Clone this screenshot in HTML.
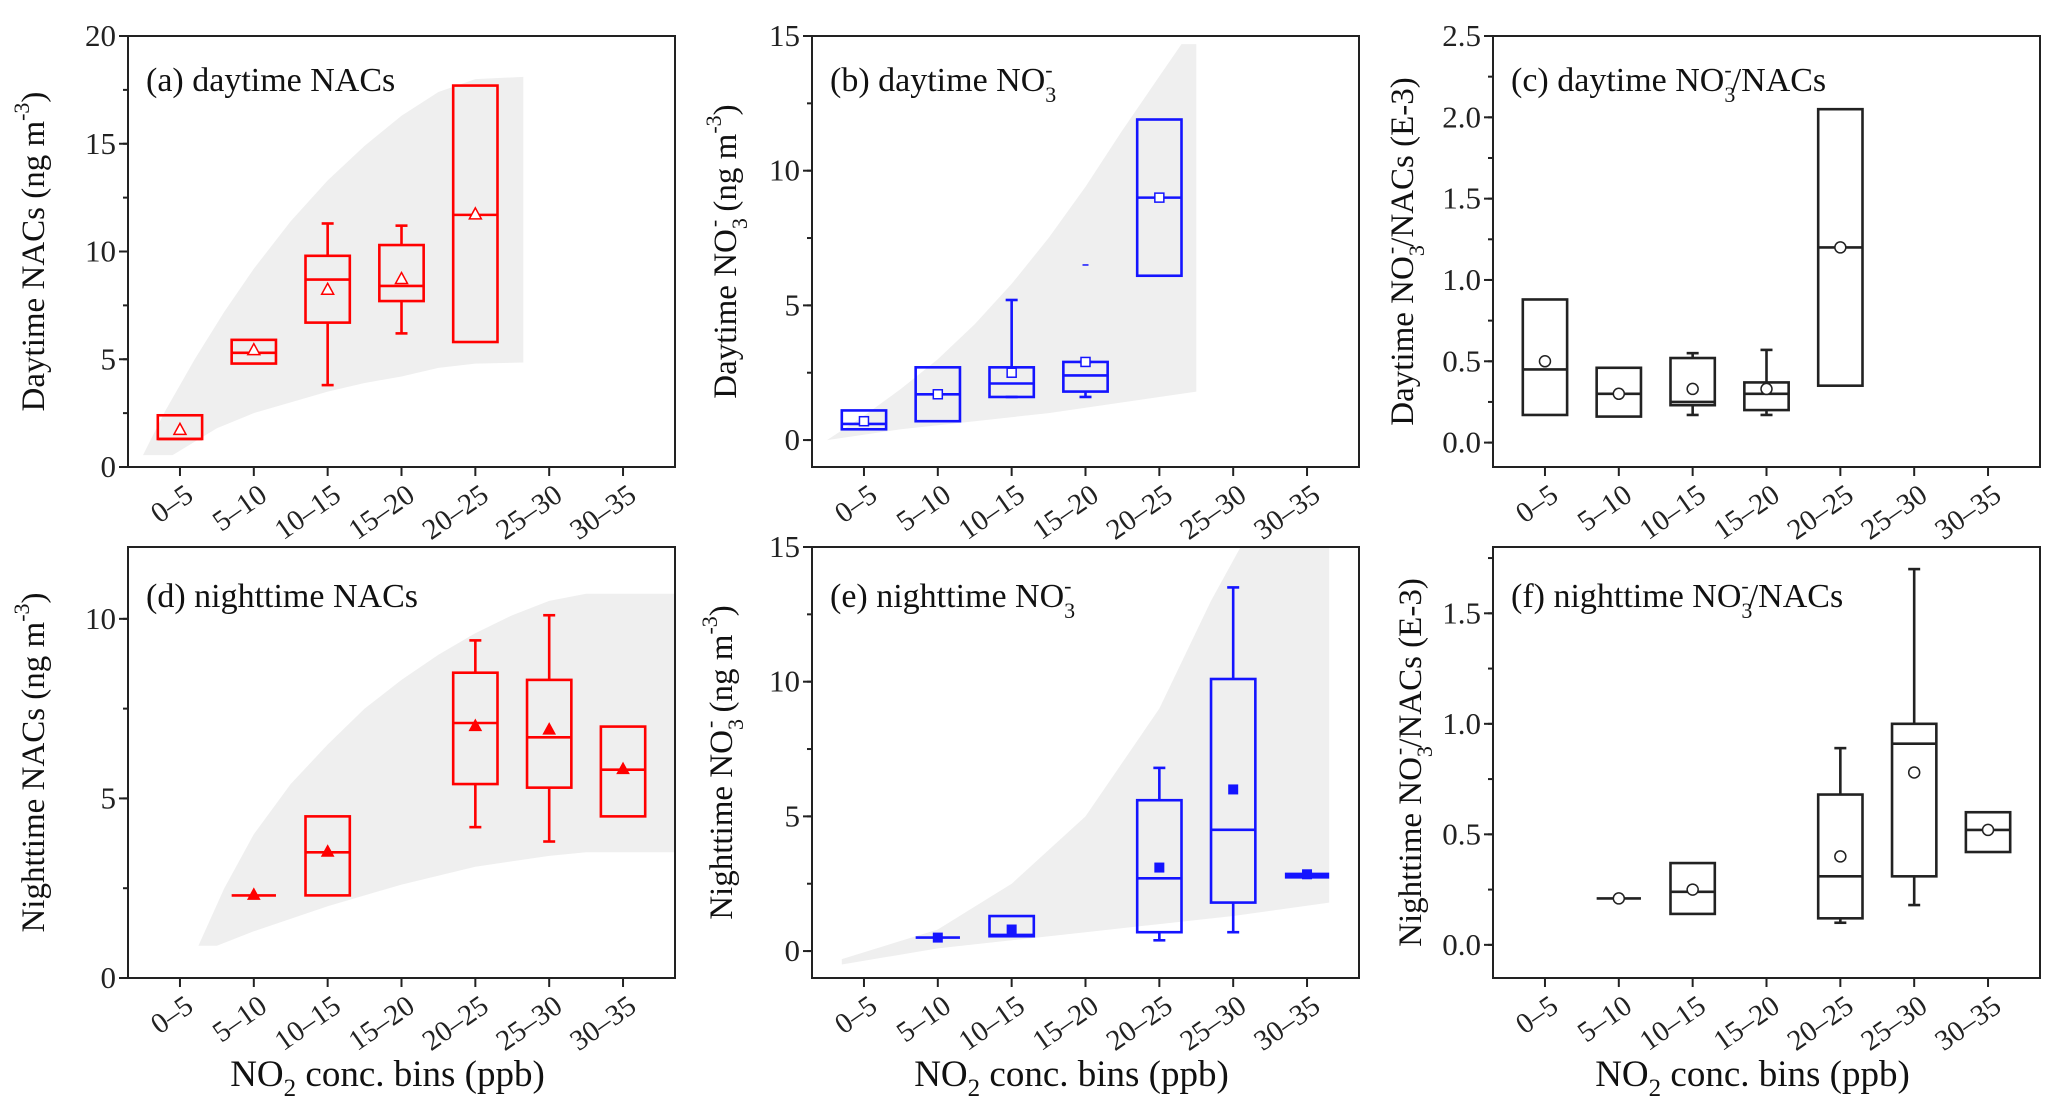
<!DOCTYPE html>
<html><head><meta charset="utf-8"><style>
html,body{margin:0;padding:0;background:#fff;}
svg{display:block;font-family:"Liberation Serif",serif;}
</style></head><body>
<svg id="fig" width="2067" height="1118" viewBox="0 0 2067 1118" xmlns="http://www.w3.org/2000/svg"></svg>
<script>
const categories = ["0–5","5–10","10–15","15–20","20–25","25–30","30–35"];
// box stats: [catIndex, whiskerLow, q1, median, q3, whiskerHigh, mean] (null = no whisker)
const boxesA = [[0,null,1.3,1.3,2.4,null,1.7],[1,null,4.8,5.3,5.9,null,5.4],[2,3.8,6.7,8.7,9.8,11.3,8.2],[3,6.2,7.7,8.4,10.3,11.2,8.7],[4,null,5.8,11.7,17.7,null,11.7]];
const boxesB = [[0,null,0.4,0.6,1.1,null,0.7],[1,null,0.7,1.7,2.7,null,1.7],[2,1.6,1.6,2.1,2.7,5.2,2.5],[3,1.6,1.8,2.4,2.9,2.9,2.9],[4,null,6.1,9.0,11.9,null,9.0]];
const outliersB = [[3,6.5]];
const boxesC = [[0,null,0.17,0.45,0.88,null,0.5],[1,null,0.16,0.3,0.46,null,0.3],[2,0.17,0.23,0.25,0.52,0.55,0.33],[3,0.17,0.2,0.3,0.37,0.57,0.33],[4,null,0.35,1.2,2.05,null,1.2]];
const boxesD = [[1,null,2.3,2.3,2.3,null,2.3],[2,null,2.3,3.5,4.5,null,3.5],[4,4.2,5.4,7.1,8.5,9.4,7.0],[5,3.8,5.3,6.7,8.3,10.1,6.9],[6,null,4.5,5.8,7.0,null,5.8]];
const boxesE = [[1,null,0.5,0.5,0.5,null,0.5],[2,null,0.55,0.6,1.3,null,0.8],[4,0.4,0.7,2.7,5.6,6.8,3.1],[5,0.7,1.8,4.5,10.1,13.5,6.0],[6,null,2.8,2.8,2.8,null,2.85]];
const boxesF = [[1,null,0.21,0.21,0.21,null,0.21],[2,null,0.14,0.24,0.37,null,0.25],[4,0.1,0.12,0.31,0.68,0.89,0.4],[5,0.18,0.31,0.91,1.0,1.7,0.78],[6,null,0.42,0.52,0.6,null,0.52]];
// shaded envelopes [cat, value]
const shadeUpA = [[-0.5,0.55],[-0.2,2.6],[0.2,5],[0.6,7.2],[1,9.2],[1.5,11.4],[2,13.3],[2.5,14.9],[3,16.3],[3.5,17.4],[4,18],[4.65,18.1]];
const shadeLoA = [[-0.1,0.55],[0.5,1.8],[1,2.5],[1.5,3],[2,3.5],[2.5,3.9],[3,4.2],[3.5,4.6],[4,4.8],[4.65,4.85]];
const shadeUpB = [[-0.5,0],[0,0.9],[0.5,1.9],[1,3],[1.5,4.3],[2,5.8],[2.5,7.5],[3,9.4],[3.5,11.5],[4,13.5],[4.3,14.7],[4.5,14.7]];
const shadeLoB = [[-0.5,0],[0.5,0.4],[1.5,0.7],[2.5,1],[3.5,1.4],[4.5,1.8]];
const shadeUpD = [[0.25,0.9],[0.6,2.5],[1,4],[1.5,5.4],[2,6.5],[2.5,7.5],[3,8.3],[3.5,9],[4,9.6],[4.5,10.1],[5,10.5],[5.5,10.7],[6.7,10.7]];
const shadeLoD = [[0.5,0.9],[1,1.3],[2,2],[3,2.6],[4,3.1],[5,3.4],[5.5,3.5],[6.7,3.5]];
const shadeUpE = [[-0.3,-0.3],[1,0.8],[2,2.5],[3,5],[4,9],[4.7,13],[5.2,15.5],[6.3,15.5]];
const shadeLoE = [[-0.3,-0.5],[1,0.1],[2,0.4],[3,0.7],[4,1],[5,1.3],[6.3,1.8]];
const ticksA = [0,5,10,15,20], ticksB=[0,5,10,15], ticksC=["0.0","0.5","1.0","1.5","2.0","2.5"];
const ticksD = [0,5,10], ticksE=[0,5,10,15], ticksF=["0.0","0.5","1.0","1.5"];

const NS="http://www.w3.org/2000/svg";
const svg=document.getElementById('fig');
function mk(tag,attrs,parent){const e=document.createElementNS(NS,tag);for(const k in attrs)e.setAttribute(k,attrs[k]);(parent||svg).appendChild(e);return e;}

const W=547,H=431,colX=[128,812,1493],rowY=[36,547];
const panels=[
 {id:'a',c:0,r:0,ymin:0,ymax:20,ticks:ticksA,minor:2.5,boxes:boxesA,color:'#ff0000',mk:'tri-open',up:shadeUpA,lo:shadeLoA,yoff:84},
 {id:'b',c:1,r:0,ymin:-1,ymax:15,ticks:ticksB,minor:2.5,boxes:boxesB,color:'#1414ff',mk:'sq-open',up:shadeUpB,lo:shadeLoB,out:outliersB,yoff:76},
 {id:'c',c:2,r:0,ymin:-0.15,ymax:2.5,ticks:ticksC,minor:0.25,boxes:boxesC,color:'#222',mk:'circ',yoff:80},
 {id:'d',c:0,r:1,ymin:0,ymax:12,ticks:ticksD,minor:2.5,boxes:boxesD,color:'#ff0000',mk:'tri-fill',up:shadeUpD,lo:shadeLoD,yoff:84},
 {id:'e',c:1,r:1,ymin:-1,ymax:15,ticks:ticksE,minor:2.5,boxes:boxesE,color:'#1414ff',mk:'sq-fill',up:shadeUpE,lo:shadeLoE,yoff:80},
 {id:'f',c:2,r:1,ymin:-0.15,ymax:1.8,ticks:ticksF,minor:0.25,boxes:boxesF,color:'#222',mk:'circ',yoff:72}
];
const T3='<tspan font-size="22" dy="11">3</tspan><tspan font-size="22" dx="-11" dy="-25">-</tspan>';
const titles={
 a:'(a) daytime NACs',
 b:'(b) daytime NO'+T3,
 c:'(c) daytime NO'+T3+'<tspan dy="14">/NACs</tspan>',
 d:'(d) nighttime NACs',
 e:'(e) nighttime NO'+T3,
 f:'(f) nighttime NO'+T3+'<tspan dy="14">/NACs</tspan>'
};
const sup='<tspan font-size="22" dy="-15">-3</tspan><tspan dy="15">)</tspan>';
const Y3='<tspan font-size="22" dy="11">3</tspan><tspan font-size="22" dx="-9" dy="-26">-</tspan>';
const ytitles={
 a:'Daytime NACs (ng m'+sup,
 b:'Daytime NO'+Y3+'<tspan dy="15"> (ng m</tspan>'+sup,
 c:'Daytime NO'+Y3+'<tspan dy="15">/NACs (E-3)</tspan>',
 d:'Nighttime NACs (ng m'+sup,
 e:'Nighttime NO'+Y3+'<tspan dy="15"> (ng m</tspan>'+sup,
 f:'Nighttime NO'+Y3+'<tspan dy="15">/NACs (E-3)</tspan>'
};

panels.forEach(p=>{
 const X0=colX[p.c],Y0=rowY[p.r];
 const g=mk('g',{});
 
 
 const xs=i=>X0+(0.095+0.135*i)*W;
 const ys=v=>Y0+H-(v-p.ymin)/(p.ymax-p.ymin)*H;
 const cid='clip'+p.id;
 const cp=mk('clipPath',{id:cid},g);mk('rect',{x:X0,y:Y0,width:W,height:H},cp);
 if(p.up){
  let d='M'+p.up.map(q=>xs(q[0]).toFixed(1)+','+ys(q[1]).toFixed(1)).join(' L');
  d+=' L'+p.lo.slice().reverse().map(q=>xs(q[0]).toFixed(1)+','+ys(q[1]).toFixed(1)).join(' L')+'Z';
  const s=mk('path',{d:d,fill:'#efefef','clip-path':'url(#'+cid+')'},g);
  
  
 }
 const bw=0.6*0.135*W/2;
 p.boxes.forEach(b=>{
  const bg=mk('g',{stroke:p.color,'stroke-width':2.6,fill:'none'},g);
  
  
  const cx=xs(b[0]);
  if(b[1]!==null){mk('line',{x1:cx,x2:cx,y1:ys(b[1]),y2:ys(b[2])},bg);mk('line',{x1:cx-6,x2:cx+6,y1:ys(b[1]),y2:ys(b[1])},bg);}
  if(b[5]!==null){mk('line',{x1:cx,x2:cx,y1:ys(b[4]),y2:ys(b[5])},bg);mk('line',{x1:cx-6,x2:cx+6,y1:ys(b[5]),y2:ys(b[5])},bg);}
  if(b[4]-b[2]>0.001*(p.ymax-p.ymin)) mk('rect',{x:cx-bw,y:ys(b[4]),width:2*bw,height:ys(b[2])-ys(b[4])},bg);
  mk('line',{x1:cx-bw,x2:cx+bw,y1:ys(b[3]),y2:ys(b[3]),'stroke-width':(b[4]===b[2]&&p.id==='e'&&b[0]===6)?6:2.6},bg);
  const my=ys(b[6]);
  let m;
  if(p.mk==='tri-open') m=mk('path',{d:`M${cx},${my-7}L${cx+6},${my+4}L${cx-6},${my+4}Z`,fill:'#fff','stroke-width':1.5},bg);
  else if(p.mk==='tri-fill') m=mk('path',{d:`M${cx},${my-7}L${cx+6},${my+4}L${cx-6},${my+4}Z`,fill:p.color,'stroke-width':1},bg);
  else if(p.mk==='sq-open') m=mk('rect',{x:cx-4.5,y:my-4.5,width:9,height:9,fill:'#fff','stroke-width':1.5},bg);
  else if(p.mk==='sq-fill') m=mk('rect',{x:cx-4.5,y:my-4.5,width:9,height:9,fill:p.color,'stroke-width':1},bg);
  else m=mk('circle',{cx:cx,cy:my,r:5.5,fill:'#fff','stroke-width':1.5},bg);
  
  
 });
 (p.out||[]).forEach(o=>{
  const l=mk('line',{x1:xs(o[0])-3,x2:xs(o[0])+3,y1:ys(o[1]),y2:ys(o[1]),stroke:p.color,'stroke-width':1.5},g);
  
  
 });
 const fr=mk('rect',{x:X0,y:Y0,width:W,height:H,fill:'none',stroke:'#222','stroke-width':2},g);
 
 
 for(let v=Math.ceil(p.ymin/p.minor)*p.minor; v<=p.ymax+1e-9; v+=p.minor){
  mk('line',{x1:X0-5,x2:X0,y1:ys(v),y2:ys(v),stroke:'#222','stroke-width':2},g);
 }
 p.ticks.forEach(t=>{
  const v=parseFloat(t);
  mk('line',{x1:X0-9,x2:X0,y1:ys(v),y2:ys(v),stroke:'#222','stroke-width':2},g);
  const tx=mk('text',{x:X0-12,y:ys(v)+10,'text-anchor':'end','font-size':31,fill:'#222'},g);
  tx.textContent=t;
  
  
 });
 categories.forEach((c,i)=>{
  const x=xs(i);
  mk('line',{x1:x,x2:x,y1:Y0+H,y2:Y0+H+9,stroke:'#222','stroke-width':2},g);
  const tx=mk('text',{x:0,y:0,'text-anchor':'end','font-size':29,fill:'#222',transform:`translate(${x+15},${Y0+H+32}) rotate(-35)`},g);
  tx.textContent=c;
  
  
 });
 const tt=mk('text',{x:X0+18,y:Y0+(p.r===0?55:60),'font-size':34,fill:'#111'},g);
 tt.innerHTML=titles[p.id];
 
 
 const yt=mk('text',{x:0,y:0,'text-anchor':'middle','font-size':33,fill:'#111',transform:`translate(${X0-p.yoff},${Y0+H/2}) rotate(-90)`},g);
 yt.innerHTML=ytitles[p.id];
 
 
 if(p.r===1){
  const xt=mk('text',{x:X0+W/2-14,y:1086,'text-anchor':'middle','font-size':37,fill:'#111'},g);
  xt.innerHTML='NO<tspan font-size="25" dy="10">2</tspan><tspan dy="-10"> conc. bins (ppb)</tspan>';
  
  
 }
});
</script>
</body></html>
